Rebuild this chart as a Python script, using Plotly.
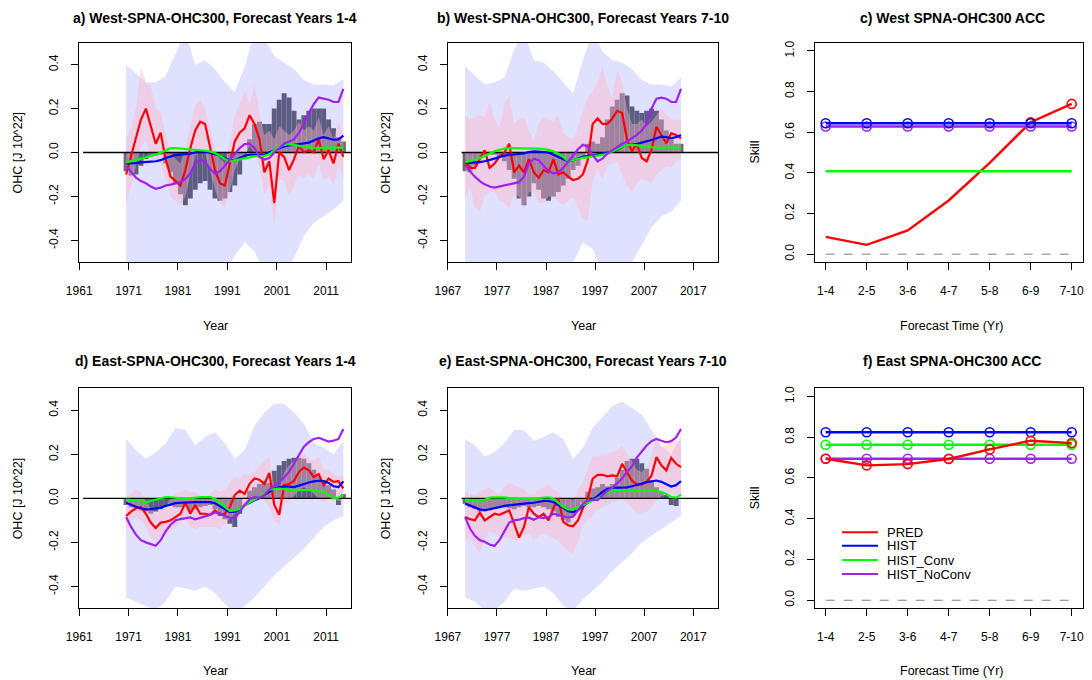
import plotly.graph_objects as go

# page body has an 8px margin: the figure is sized/positioned so that the
# photographed 1092x680 window matches the reference pixel layout
OFF = 8
W, H = 1092 - OFF, 680 - OFF
FONT = "Liberation Sans, Arial, Helvetica, sans-serif"

# ---------------- categories / ticks ----------------
years = list(range(1971, 2016))            # 45 running (4-yr) means
band_years = years[::2]                     # envelope read every 2nd year
leads = ["1-4", "2-5", "3-6", "4-7", "5-8", "6-9", "7-10"]
ohc_tickvals = [-0.4, -0.2, 0.0, 0.2, 0.4]
ohc_ticktext = ["-0.4", "-0.2", "0.0", "0.2", "0.4"]
skill_tickvals = [0.0, 0.2, 0.4, 0.6, 0.8, 1.0]
skill_ticktext = ["0.0", "0.2", "0.4", "0.6", "0.8", "1.0"]
year_ticks_14 = [1961, 1971, 1981, 1991, 2001, 2011]
year_ticks_710 = [1967, 1977, 1987, 1997, 2007, 2017]

# ---------------- a) West, years 1-4 ----------------
a_obs = [-0.085, -0.105, -0.10, -0.06, -0.03, -0.02, -0.015, -0.01, -0.05, -0.09,
         -0.14, -0.19, -0.24, -0.21, -0.17, -0.14, -0.13, -0.17, -0.21, -0.22,
         -0.21, -0.18, -0.15, -0.10, -0.03, 0.06, 0.13, 0.14, 0.13, 0.13,
         0.20, 0.24, 0.27, 0.25, 0.19, 0.15, 0.17, 0.19, 0.20, 0.20,
         0.20, 0.15, 0.11, 0.07, 0.05]
a_pred = [-0.10, -0.02, 0.06, 0.15, 0.20, 0.12, 0.04, 0.09, -0.03, -0.11,
          -0.13, -0.15, -0.08, 0.02, 0.10, 0.14, 0.13, 0.02, -0.08, -0.14,
          -0.15, -0.05, 0.05, 0.09, 0.11, 0.17, 0.13, 0.06, -0.09, -0.04,
          -0.23, 0.00, -0.02, -0.08, -0.03, 0.03, 0.00, 0.01, 0.00, 0.06,
          -0.03, 0.01, -0.05, 0.04, -0.02]
a_hist = [-0.05, -0.05, -0.048, -0.045, -0.045, -0.042, -0.04, -0.035, -0.025, -0.018,
          -0.012, -0.01, -0.008, -0.005, 0.0, 0.005, 0.005, 0.0, -0.008, -0.015,
          -0.025, -0.035, -0.035, -0.025, -0.015, -0.01, -0.01, -0.012, -0.01, 0.0,
          0.01, 0.02, 0.028, 0.032, 0.035, 0.037, 0.04, 0.045, 0.055, 0.065,
          0.07, 0.065, 0.058, 0.06, 0.077]
a_conv = [-0.045, -0.04, -0.035, -0.03, -0.022, -0.015, -0.01, 0.0, 0.01, 0.02,
          0.02, 0.018, 0.018, 0.017, 0.015, 0.012, 0.008, 0.005, -0.002, -0.015,
          -0.03, -0.04, -0.035, -0.03, -0.025, -0.02, -0.018, -0.017, -0.015, -0.008,
          0.01, 0.025, 0.035, 0.038, 0.035, 0.03, 0.026, 0.024, 0.022, 0.02,
          0.022, 0.022, 0.02, 0.02, 0.022]
a_noconv = [-0.06, -0.09, -0.115, -0.13, -0.14, -0.155, -0.165, -0.16, -0.15, -0.146,
            -0.14, -0.135, -0.12, -0.095, -0.05, -0.03, -0.045, -0.075, -0.095, -0.085,
            -0.06, -0.035, -0.01, 0.02, 0.038, 0.04, 0.02, -0.02, -0.032, -0.025,
            0.0, 0.02, 0.04, 0.05, 0.06, 0.09, 0.13, 0.18, 0.22, 0.25,
            0.245, 0.24, 0.23, 0.23, 0.29]
a_pred_lo = [-0.24, -0.15, -0.05, 0.03, 0.05, -0.02, -0.05, -0.05, -0.12, -0.20,
             -0.22, -0.24, -0.20, -0.10, -0.02, 0.02, 0.00, -0.08, -0.17, -0.23,
             -0.25, -0.18, -0.08, -0.03, -0.02, 0.03, 0.00, -0.06, -0.19, -0.15,
             -0.33, -0.12, -0.13, -0.20, -0.15, -0.10, -0.12, -0.10, -0.12, -0.05,
             -0.13, -0.10, -0.15, -0.06, -0.12]
a_pred_hi = [0.06, 0.12, 0.20, 0.39, 0.32, 0.30, 0.20, 0.18, 0.08, 0.00,
             -0.03, -0.05, 0.02, 0.12, 0.22, 0.24, 0.20, 0.10, 0.02, -0.03,
             -0.05, 0.05, 0.17, 0.22, 0.28, 0.22, 0.31, 0.18, 0.08, 0.10,
             0.06, 0.12, 0.10, 0.08, 0.10, 0.14, 0.10, 0.12, 0.10, 0.16,
             0.08, 0.12, 0.06, 0.14, 0.08]
a_ens_lo = [-0.55, -0.55, -0.55, -0.55, -0.55, -0.55, -0.55, -0.55, -0.55, -0.55,
            -0.55, -0.47, -0.41, -0.45, -0.55, -0.58, -0.56, -0.48, -0.38, -0.32,
            -0.29, -0.26, -0.22]
a_ens_hi = [0.40, 0.36, 0.32, 0.32, 0.35, 0.45, 0.55, 0.40, 0.42, 0.38,
            0.32, 0.275, 0.39, 0.55, 0.52, 0.44, 0.41, 0.38, 0.33, 0.31,
            0.31, 0.305, 0.335]

# ---------------- b) West, years 7-10 ----------------
b_obs = [-0.085, -0.09, -0.06, -0.03, -0.02, -0.01, -0.01, -0.02, -0.04, -0.08,
         -0.12, -0.21, -0.24, -0.20, -0.14, -0.17, -0.21, -0.22, -0.20, -0.18,
         -0.15, -0.12, -0.08, -0.06, -0.03, 0.04, 0.05, 0.04, 0.07, 0.15,
         0.21, 0.24, 0.27, 0.26, 0.21, 0.19, 0.18, 0.19, 0.20, 0.19,
         0.15, 0.10, 0.06, 0.04, 0.04]
b_pred = [-0.04, -0.07, -0.07, -0.03, 0.01, -0.07, -0.05, -0.02, 0.0, 0.04,
          -0.09, -0.06, -0.09, -0.03, -0.09, -0.115, -0.08, -0.09, -0.03, -0.10,
          -0.09, -0.11, -0.125, -0.12, -0.10, -0.035, 0.13, 0.155, 0.13, 0.13,
          0.155, 0.19, 0.18, 0.06, 0.005, 0.04, -0.025, -0.04, 0.012, 0.117,
          0.08, 0.042, 0.087, 0.08, 0.065]
b_hist = [-0.048, -0.047, -0.046, -0.044, -0.04, -0.035, -0.028, -0.02, -0.015, -0.01,
          -0.009, -0.008, -0.004, 0.002, 0.005, 0.004, 0.002, 0.0, -0.01, -0.02,
          -0.03, -0.04, -0.035, -0.026, -0.02, -0.015, -0.012, -0.01, -0.005, -0.002,
          0.005, 0.012, 0.025, 0.035, 0.037, 0.039, 0.045, 0.05, 0.057, 0.065,
          0.072, 0.07, 0.065, 0.07, 0.08]
b_conv = [-0.045, -0.04, -0.033, -0.026, -0.015, -0.005, 0.005, 0.012, 0.018, 0.02,
          0.02, 0.02, 0.02, 0.02, 0.02, 0.018, 0.015, 0.012, 0.005, -0.005,
          -0.02, -0.04, -0.035, -0.028, -0.024, -0.021, -0.018, -0.015, -0.011, -0.005,
          0.005, 0.015, 0.028, 0.035, 0.036, 0.034, 0.03, 0.027, 0.024, 0.021,
          0.02, 0.022, 0.024, 0.022, 0.02]
b_noconv = [-0.056, -0.086, -0.11, -0.13, -0.145, -0.155, -0.16, -0.155, -0.148, -0.145,
            -0.14, -0.135, -0.11, -0.05, -0.028, -0.035, -0.06, -0.085, -0.095, -0.09,
            -0.07, -0.04, -0.011, 0.015, 0.035, 0.027, -0.011, -0.04, -0.028, -0.005,
            0.01, 0.027, 0.04, 0.05, 0.065, 0.08, 0.10, 0.13, 0.20, 0.245,
            0.25, 0.245, 0.23, 0.23, 0.29]
b_pred_lo = [-0.21, -0.16, -0.25, -0.27, -0.20, -0.18, -0.18, -0.22, -0.23, -0.25,
             -0.19, -0.20, -0.26, -0.18, -0.18, -0.23, -0.23, -0.20, -0.20, -0.22,
             -0.24, -0.22, -0.20, -0.25, -0.30, -0.31, -0.13, -0.08, -0.12, -0.06,
             -0.05, -0.04, -0.10, -0.15, -0.18, -0.14, -0.12, -0.13, -0.14, -0.10,
             -0.08, -0.06, -0.07, -0.04, -0.025]
b_pred_hi = [0.17, 0.15, 0.16, 0.17, 0.16, 0.23, 0.15, 0.11, 0.22, 0.26,
             0.13, 0.15, 0.16, 0.10, 0.05, 0.13, 0.16, 0.15, 0.14, 0.17,
             0.09, 0.07, 0.06, 0.11, 0.19, 0.25, 0.28, 0.32, 0.39, 0.30,
             0.25, 0.37, 0.32, 0.20, 0.13, 0.13, 0.15, 0.12, 0.14, 0.17,
             0.20, 0.17, 0.15, 0.15, 0.15]
b_ens_lo = [-0.55, -0.55, -0.55, -0.55, -0.55, -0.55, -0.55, -0.55, -0.55, -0.55,
            -0.55, -0.50, -0.41, -0.44, -0.55, -0.58, -0.56, -0.50, -0.42, -0.34,
            -0.29, -0.27, -0.22]
b_ens_hi = [0.395, 0.35, 0.31, 0.32, 0.34, 0.47, 0.55, 0.42, 0.41, 0.37,
            0.32, 0.27, 0.42, 0.55, 0.46, 0.42, 0.41, 0.38, 0.33, 0.31,
            0.31, 0.30, 0.34]

# ---------------- d) East, years 1-4 ----------------
d_obs = [-0.03, -0.04, -0.045, -0.055, -0.06, -0.07, -0.06, -0.05, -0.035, -0.035,
         -0.04, -0.04, -0.035, -0.06, -0.05, -0.04, -0.035, -0.03, -0.05, -0.08,
         -0.095, -0.115, -0.13, -0.07, 0.0, 0.035, 0.05, 0.065, 0.08, 0.07,
         0.125, 0.15, 0.17, 0.18, 0.185, 0.185, 0.18, 0.16, 0.13, 0.10,
         0.08, 0.06, 0.04, -0.03, 0.02]
d_pred = [-0.08, -0.06, -0.045, -0.04, -0.07, -0.11, -0.135, -0.11, -0.107, -0.10,
          -0.085, -0.07, -0.02, -0.07, -0.03, -0.07, -0.07, -0.075, -0.055, -0.075,
          -0.07, -0.04, 0.015, 0.035, 0.02, 0.066, 0.09, 0.085, 0.065, 0.115,
          -0.03, -0.075, 0.06, 0.065, 0.08, 0.12, 0.14, 0.127, 0.097, 0.11,
          0.06, 0.09, 0.075, 0.078, 0.045]
d_hist = [-0.02, -0.03, -0.038, -0.045, -0.05, -0.049, -0.047, -0.042, -0.035, -0.028,
          -0.022, -0.02, -0.018, -0.017, -0.017, -0.017, -0.017, -0.017, -0.022, -0.035,
          -0.05, -0.062, -0.06, -0.05, -0.032, -0.02, -0.009, 0.0, 0.014, 0.03,
          0.044, 0.05, 0.054, 0.053, 0.051, 0.058, 0.066, 0.072, 0.077, 0.08,
          0.078, 0.07, 0.055, 0.051, 0.077]
d_conv = [-0.006, -0.007, -0.009, -0.013, -0.018, -0.012, -0.006, 0.0, 0.006, 0.005,
          0.003, 0.001, -0.002, 0.0, 0.004, 0.006, 0.006, 0.006, -0.002, -0.02,
          -0.04, -0.057, -0.055, -0.048, -0.032, -0.018, -0.006, 0.008, 0.021, 0.04,
          0.043, 0.044, 0.042, 0.038, 0.036, 0.037, 0.039, 0.038, 0.036, 0.032,
          0.029, 0.016, 0.0, 0.003, 0.017]
d_noconv = [-0.085, -0.13, -0.165, -0.19, -0.2, -0.207, -0.215, -0.19, -0.15, -0.12,
            -0.1, -0.094, -0.09, -0.087, -0.095, -0.088, -0.082, -0.075, -0.064, -0.068,
            -0.08, -0.088, -0.092, -0.06, -0.03, -0.005, 0.005, 0.002, 0.015, 0.04,
            0.055, 0.075, 0.095, 0.12, 0.16, 0.2, 0.235, 0.255, 0.27, 0.275,
            0.265, 0.258, 0.262, 0.27, 0.315]
d_pred_lo = [-0.15, -0.10, -0.09, -0.10, -0.13, -0.18, -0.19, -0.17, -0.16, -0.15,
             -0.13, -0.11, -0.09, -0.13, -0.14, -0.13, -0.13, -0.13, -0.13, -0.14,
             -0.12, -0.09, -0.07, -0.04, -0.03, -0.01, 0.0, 0.01, -0.01, -0.04,
             -0.10, -0.12, -0.03, -0.01, 0.01, 0.04, 0.05, 0.04, 0.02, 0.0,
             -0.02, 0.0, -0.01, -0.01, -0.02]
d_pred_hi = [0.0, 0.02, 0.04, 0.03, -0.01, -0.05, -0.07, -0.06, -0.04, 0.0,
             0.02, 0.03, 0.04, 0.03, 0.03, 0.01, 0.01, 0.02, 0.04, 0.03,
             0.04, 0.07, 0.10, 0.09, 0.11, 0.11, 0.12, 0.15, 0.17, 0.19,
             0.05, 0.04, 0.12, 0.15, 0.17, 0.20, 0.20, 0.18, 0.17, 0.19,
             0.13, 0.13, 0.11, 0.10, 0.10]
d_ens_lo = [-0.45, -0.47, -0.49, -0.51, -0.47, -0.40, -0.41, -0.42, -0.40, -0.43,
            -0.48, -0.52, -0.49, -0.45, -0.40, -0.35, -0.31, -0.27, -0.23, -0.18,
            -0.13, -0.10, -0.08]
d_ens_hi = [0.27, 0.22, 0.18, 0.21, 0.25, 0.32, 0.31, 0.24, 0.28, 0.30,
            0.25, 0.18, 0.22, 0.33, 0.39, 0.43, 0.43, 0.39, 0.34, 0.25,
            0.23, 0.20, 0.26]

# ---------------- e) East, years 7-10 ----------------
e_obs = [-0.025, -0.04, -0.05, -0.06, -0.06, -0.055, -0.045, -0.04, -0.04, -0.045,
         -0.05, -0.04, -0.035, -0.04, -0.04, -0.035, -0.04, -0.05, -0.06, -0.085,
         -0.10, -0.11, -0.08, -0.05, -0.02, 0.03, 0.045, 0.05, 0.065, 0.055,
         0.065, 0.095, 0.13, 0.17, 0.18, 0.18, 0.16, 0.135, 0.08, 0.05,
         0.03, 0.015, -0.03, -0.035, 0.0]
e_pred = [-0.085, -0.095, -0.10, -0.065, -0.10, -0.085, -0.07, -0.075, -0.065, -0.055,
          -0.115, -0.178, -0.13, -0.04, -0.07, -0.085, -0.07, -0.10, -0.045, 0.0,
          -0.107, -0.122, -0.127, -0.10, -0.045, 0.0, 0.089, 0.107, 0.107, 0.10,
          0.104, 0.10, 0.157, 0.12, 0.081, 0.063, 0.063, 0.074, 0.104, 0.187,
          0.15, 0.127, 0.184, 0.157, 0.142]
e_hist = [-0.024, -0.033, -0.042, -0.05, -0.054, -0.05, -0.045, -0.04, -0.034, -0.031,
          -0.029, -0.027, -0.025, -0.022, -0.02, -0.016, -0.012, -0.012, -0.017, -0.03,
          -0.045, -0.058, -0.062, -0.054, -0.035, -0.02, -0.009, 0.01, 0.029, 0.042,
          0.048, 0.048, 0.047, 0.05, 0.055, 0.06, 0.067, 0.074, 0.078, 0.081,
          0.075, 0.066, 0.054, 0.06, 0.078]
e_conv = [-0.006, -0.007, -0.009, -0.015, -0.005, 0.003, 0.005, 0.006, 0.004, 0.001,
          -0.001, -0.002, -0.002, -0.002, 0.0, 0.004, 0.006, 0.005, 0.0, -0.02,
          -0.04, -0.05, -0.051, -0.04, -0.03, -0.022, -0.012, 0.0, 0.014, 0.028,
          0.039, 0.038, 0.036, 0.035, 0.034, 0.033, 0.034, 0.035, 0.036, 0.033,
          0.029, 0.02, 0.006, 0.003, 0.017]
e_noconv = [-0.085, -0.137, -0.17, -0.19, -0.197, -0.21, -0.216, -0.19, -0.15, -0.11,
            -0.10, -0.097, -0.09, -0.088, -0.097, -0.086, -0.09, -0.085, -0.07, -0.076,
            -0.083, -0.087, -0.084, -0.055, -0.025, -0.01, -0.006, -0.008, 0.015, 0.035,
            0.048, 0.07, 0.09, 0.12, 0.145, 0.185, 0.215, 0.24, 0.26, 0.27,
            0.262, 0.255, 0.26, 0.276, 0.315]
e_pred_lo = [-0.19, -0.18, -0.22, -0.25, -0.19, -0.15, -0.16, -0.17, -0.18, -0.18,
             -0.19, -0.19, -0.17, -0.16, -0.19, -0.17, -0.16, -0.17, -0.18, -0.19,
             -0.22, -0.24, -0.25, -0.20, -0.12, -0.10, -0.08, -0.05, -0.04, -0.03,
             -0.02, -0.01, 0.0, -0.02, -0.04, -0.07, -0.07, -0.06, -0.04, -0.01,
             0.01, 0.015, 0.02, 0.015, 0.01]
e_pred_hi = [0.03, 0.02, 0.015, 0.03, 0.04, 0.05, 0.03, 0.02, 0.05, 0.07,
             0.06, 0.05, 0.04, 0.02, 0.02, 0.04, 0.05, 0.065, 0.04, 0.03,
             0.0, 0.0, -0.01, 0.04, 0.07, 0.14, 0.19, 0.19, 0.20, 0.20,
             0.21, 0.22, 0.24, 0.20, 0.17, 0.13, 0.12, 0.14, 0.20, 0.26,
             0.23, 0.24, 0.27, 0.26, 0.26]
e_ens_lo = [-0.45, -0.47, -0.51, -0.51, -0.47, -0.41, -0.42, -0.41, -0.40, -0.43,
            -0.49, -0.51, -0.46, -0.42, -0.38, -0.33, -0.29, -0.25, -0.20, -0.17,
            -0.14, -0.11, -0.08]
e_ens_hi = [0.27, 0.24, 0.19, 0.21, 0.25, 0.31, 0.31, 0.26, 0.28, 0.30,
            0.27, 0.18, 0.23, 0.32, 0.37, 0.42, 0.44, 0.41, 0.38, 0.31,
            0.24, 0.20, 0.285]

# ---------------- c) / f) skill (ACC) ----------------
c_pred = [0.085, 0.046, 0.117, 0.264, 0.449, 0.649, 0.739]
c_hist = [0.644, 0.644, 0.644, 0.644, 0.644, 0.644, 0.644]
c_conv = [0.408, 0.408, 0.408, 0.408, 0.408, 0.408, 0.408]
c_noconv = [0.628, 0.628, 0.628, 0.628, 0.628, 0.628, 0.628]
c_pred_sig = [False, False, False, False, False, True, True]
c_hist_sig = [True, True, True, True, True, True, True]
c_conv_sig = [False, False, False, False, False, False, False]
c_noconv_sig = [True, True, True, True, True, True, True]

f_pred = [0.694, 0.662, 0.668, 0.693, 0.740, 0.783, 0.771]
f_hist = [0.824, 0.824, 0.824, 0.824, 0.824, 0.824, 0.824]
f_conv = [0.763, 0.763, 0.763, 0.763, 0.763, 0.763, 0.763]
f_noconv = [0.694, 0.694, 0.694, 0.694, 0.694, 0.694, 0.694]
f_pred_sig = [True] * 7
f_hist_sig = [True] * 7
f_conv_sig = [True] * 7
f_noconv_sig = [True] * 7

series_names = ["PRED", "HIST", "HIST_Conv", "HIST_NoConv"]

# ---------------- style ----------------
RED, BLUE, GREEN, PURPLE = "#ff0000", "#0000ff", "#00ff00", "#a020f0"
LAV = "rgba(0,0,255,0.12)"
PINK = "rgba(255,182,196,0.42)"
OBS = "rgb(106,106,114)"

centre = [y - 0.5 for y in years]
band_centre = [y - 0.5 for y in band_years]

fig = go.Figure()


def ax_ids(i):
    s = "" if i == 1 else str(i)
    return "x" + s, "y" + s


def ohc_panel(i, obs, pred, hist, conv, noconv, plo, phi, elo, ehi, zero_start, zero_end):
    xa, ya = ax_ids(i)
    common = dict(xaxis=xa, yaxis=ya, showlegend=False, hoverinfo="skip")
    fig.add_trace(go.Bar(x=centre, y=obs, width=1.0, marker=dict(color=OBS, line=dict(width=0)), **common))
    fig.add_trace(go.Scatter(x=band_centre, y=elo, mode="lines", line=dict(width=0, color=LAV), **common))
    fig.add_trace(go.Scatter(x=band_centre, y=ehi, mode="lines", line=dict(width=0, color=LAV),
                             fill="tonexty", fillcolor=LAV, **common))
    fig.add_trace(go.Scatter(x=centre, y=plo, mode="lines", line=dict(width=0, color=PINK), **common))
    fig.add_trace(go.Scatter(x=centre, y=phi, mode="lines", line=dict(width=0, color=PINK),
                             fill="tonexty", fillcolor=PINK, **common))
    fig.add_trace(go.Scatter(x=[zero_start, zero_end], y=[0, 0], mode="lines",
                             line=dict(color="black", width=1.4), **common))
    for ys, col in ((pred, RED), (hist, BLUE), (conv, GREEN), (noconv, PURPLE)):
        fig.add_trace(go.Scatter(x=centre, y=ys, mode="lines", line=dict(color=col, width=2.2), **common))


def skill_panel(i, series, sigs, order):
    xa, ya = ax_ids(i)
    common = dict(xaxis=xa, yaxis=ya, showlegend=False, hoverinfo="skip")
    fig.add_trace(go.Scatter(x=leads, y=[0] * len(leads), mode="lines",
                             line=dict(color="gray", width=1, dash="dash"), **common))
    cols = [RED, BLUE, GREEN, PURPLE]
    for k in order:
        ys, sg, col = series[k], sigs[k], cols[k]
        fig.add_trace(go.Scatter(x=leads, y=ys, mode="lines", line=dict(color=col, width=2.4), **common))
        mx = [l for l, s in zip(leads, sg) if s]
        my = [v for v, s in zip(ys, sg) if s]
        if mx:
            fig.add_trace(go.Scatter(x=mx, y=my, mode="markers",
                                     marker=dict(symbol="circle-open", size=9, color=col,
                                                 line=dict(width=1.6, color=col)), **common))


ohc_panel(1, a_obs, a_pred, a_hist, a_conv, a_noconv, a_pred_lo, a_pred_hi, a_ens_lo, a_ens_hi, 1961.8, 2016.04)
ohc_panel(2, b_obs, b_pred, b_hist, b_conv, b_noconv, b_pred_lo, b_pred_hi, b_ens_lo, b_ens_hi, 1969.8, 2022.04)
skill_panel(3, [c_pred, c_hist, c_conv, c_noconv], [c_pred_sig, c_hist_sig, c_conv_sig, c_noconv_sig], [0, 2, 3, 1])
ohc_panel(4, d_obs, d_pred, d_hist, d_conv, d_noconv, d_pred_lo, d_pred_hi, d_ens_lo, d_ens_hi, 1961.8, 2016.04)
ohc_panel(5, e_obs, e_pred, e_hist, e_conv, e_noconv, e_pred_lo, e_pred_hi, e_ens_lo, e_ens_hi, 1969.8, 2022.04)
skill_panel(6, [f_pred, f_hist, f_conv, f_noconv], [f_pred_sig, f_hist_sig, f_conv_sig, f_noconv_sig], [3, 2, 1, 0])

# ---------------- layout (positions in window pixels) ----------------
cols_px = [(79, 351), (447.7, 718), (815, 1083)]
rows_px = [(42.7, 262.3), (388.3, 608.4)]


def fx(px):
    return (px - OFF) / W


def fy(py):
    return 1 - (py - OFF) / H


tickfont = dict(family=FONT, size=12, color="black")
axis_common = dict(showline=True, linecolor="black", linewidth=1, mirror=True, showgrid=False,
                   zeroline=False, ticks="outside", ticklen=7, tickwidth=1, tickcolor="black",
                   tickfont=tickfont, automargin=False)

layout_axes = {}
for i in range(1, 7):
    r = 0 if i <= 3 else 1
    c = (i - 1) % 3
    s = "" if i == 1 else str(i)
    x0, x1 = cols_px[c]
    y0, y1 = rows_px[r]
    xd = [fx(x0), fx(x1)]
    yd = [fy(y1), fy(y0)]
    if c == 0:
        xax = dict(domain=xd, range=[1960.96, 2016.04], tickvals=year_ticks_14,
                   ticktext=[str(t) for t in year_ticks_14])
    elif c == 1:
        xax = dict(domain=xd, range=[1966.96, 2022.04], tickvals=year_ticks_710,
                   ticktext=[str(t) for t in year_ticks_710])
    else:
        xax = dict(domain=xd, type="category", range=[-0.261, 6.276], tickvals=leads, ticktext=leads)
    if c < 2:
        yax = dict(domain=yd, range=[-0.5, 0.5], tickvals=ohc_tickvals, ticktext=ohc_ticktext)
    else:
        yax = dict(domain=yd, range=[-0.04, 1.04], tickvals=skill_tickvals, ticktext=skill_ticktext)
    xax.update(axis_common, anchor="y" + s, ticklabelstandoff=10)
    yax.update(axis_common, anchor="x" + s, tickangle=-90, ticklabelstandoff=8)
    layout_axes["xaxis" + s] = xax
    layout_axes["yaxis" + s] = yax


def ann(text, px, py, size=13, angle=0, bold=False, xanchor="center"):
    return dict(text=("<b>%s</b>" % text) if bold else text, x=fx(px), y=fy(py),
                xref="paper", yref="paper", showarrow=False, textangle=angle, borderpad=0,
                xanchor=xanchor, yanchor="middle", font=dict(family=FONT, size=size, color="black"))


titles = ["a) West-SPNA-OHC300, Forecast Years 1-4", "b) West-SPNA-OHC300, Forecast Years 7-10",
          "c) West SPNA-OHC300 ACC", "d) East-SPNA-OHC300, Forecast Years 1-4",
          "e) East-SPNA-OHC300, Forecast Years 7-10", "f) East SPNA-OHC300 ACC"]
annotations = []
title_y = [17.5, 361]
xlab_y = [326, 671]
ylab_x = [18, 386, 755]
title_cx = [215, 583, 952]
for i in range(6):
    r = i // 3
    c = i % 3
    cy = sum(rows_px[r]) / 2
    annotations.append(ann(titles[i], title_cx[c], title_y[r], size=14, bold=True))
    annotations.append(ann("Forecast Time (Yr)" if c == 2 else "Year", title_cx[c], xlab_y[r], size=12.5))
    annotations.append(ann("Skill" if c == 2 else "OHC [J 10^22]", ylab_x[c], cy, size=12.5, angle=-90))

# legend of panel f
leg_rows = [532.3, 545.8, 560.0, 574.0]
leg_cols = [RED, BLUE, GREEN, PURPLE]
shapes = []
for name, yy, col in zip(series_names, leg_rows, leg_cols):
    shapes.append(dict(type="line", xref="paper", yref="paper", x0=fx(842), x1=fx(878),
                       y0=fy(yy), y1=fy(yy), line=dict(color=col, width=2)))
    annotations.append(ann(name, 886, yy, size=13, xanchor="left"))

fig.update_layout(width=W, height=H, margin=dict(l=0, r=0, t=0, b=0, pad=0), autosize=False,
                  plot_bgcolor="white", paper_bgcolor="white", showlegend=False,
                  barmode="overlay", annotations=annotations, shapes=shapes,
                  font=dict(family=FONT, size=12, color="black"), **layout_axes)

fig.write_html("out.html")
